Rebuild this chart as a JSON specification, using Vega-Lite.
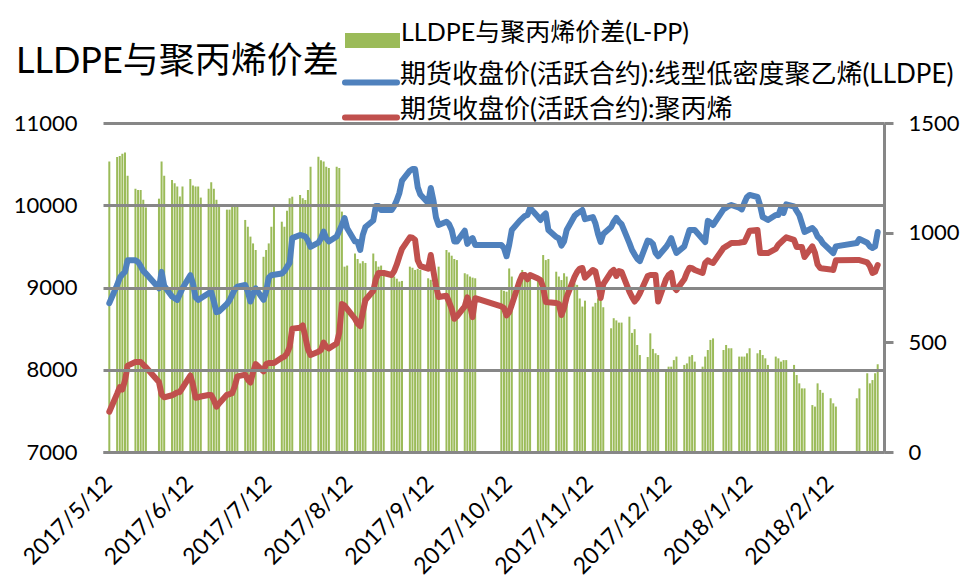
{
  "$schema": "https://vega.github.io/schema/vega-lite/v6.json",
  "width": 781,
  "height": 329,
  "autosize": "none",
  "padding": {"left": 103, "top": 123, "right": 79, "bottom": 134},
  "background": "white",
  "title": {
    "text": "LLDPE与聚丙烯价差",
    "anchor": "start",
    "frame": "group",
    "orient": "top",
    "baseline": "alphabetic",
    "offset": 51,
    "dy": 147,
    "dx": -87,
    "fontSize": 36,
    "fontWeight": "normal",
    "font": "Lato, Noto Sans CJK SC",
    "color": "#000000"
  },
  "data": {"values": [
{"d":"2017-05-12","l":8810,"p":7490,"s":1325},
{"d":"2017-05-15","l":9030,"p":7710,"s":1345},
{"d":"2017-05-16","l":9120,"p":7790,"s":1350},
{"d":"2017-05-17","l":9160,"p":7760,"s":1360},
{"d":"2017-05-18","l":9190,"p":7870,"s":1365},
{"d":"2017-05-19","l":9330,"p":8050,"s":1260},
{"d":"2017-05-22","l":9330,"p":8094,"s":1200},
{"d":"2017-05-23","l":9310,"p":8094,"s":1195},
{"d":"2017-05-24","l":9260,"p":8094,"s":1195},
{"d":"2017-05-25","l":9200,"p":8060,"s":1150},
{"d":"2017-05-26","l":9170,"p":8030,"s":1115},
{"d":"2017-05-31","l":8990,"p":7850,"s":1155},
{"d":"2017-06-01","l":9190,"p":7700,"s":1325},
{"d":"2017-06-02","l":9020,"p":7665,"s":1260},
{"d":"2017-06-05","l":8890,"p":7690,"s":1240},
{"d":"2017-06-06","l":8870,"p":7705,"s":1225},
{"d":"2017-06-07","l":8850,"p":7725,"s":1210},
{"d":"2017-06-08","l":8920,"p":7730,"s":1165},
{"d":"2017-06-09","l":8990,"p":7780,"s":1210},
{"d":"2017-06-12","l":9150,"p":7930,"s":1245},
{"d":"2017-06-13","l":9050,"p":7820,"s":1215},
{"d":"2017-06-14","l":8880,"p":7660,"s":1210},
{"d":"2017-06-15","l":8850,"p":7665,"s":1210},
{"d":"2017-06-16","l":8870,"p":7675,"s":1160},
{"d":"2017-06-19","l":8930,"p":7693,"s":1200},
{"d":"2017-06-20","l":8945,"p":7693,"s":1230},
{"d":"2017-06-21","l":8830,"p":7630,"s":1200},
{"d":"2017-06-22","l":8700,"p":7550,"s":1150},
{"d":"2017-06-23","l":8710,"p":7590,"s":1120},
{"d":"2017-06-26","l":8800,"p":7695,"s":1105},
{"d":"2017-06-27","l":8845,"p":7705,"s":1105},
{"d":"2017-06-28","l":8910,"p":7715,"s":1118},
{"d":"2017-06-29","l":8975,"p":7800,"s":1118},
{"d":"2017-06-30","l":9010,"p":7920,"s":1118},
{"d":"2017-07-03","l":9030,"p":7940,"s":1058},
{"d":"2017-07-04","l":8950,"p":7880,"s":1027},
{"d":"2017-07-05","l":8830,"p":7845,"s":982},
{"d":"2017-07-06","l":8920,"p":7970,"s":951},
{"d":"2017-07-07","l":8990,"p":8070,"s":921},
{"d":"2017-07-10","l":8850,"p":7980,"s":890},
{"d":"2017-07-11","l":8950,"p":8070,"s":921},
{"d":"2017-07-12","l":9120,"p":8082,"s":951},
{"d":"2017-07-13","l":9150,"p":8082,"s":1027},
{"d":"2017-07-14","l":9155,"p":8082,"s":1118},
{"d":"2017-07-17","l":9170,"p":8145,"s":1050},
{"d":"2017-07-18","l":9200,"p":8160,"s":1027},
{"d":"2017-07-19","l":9250,"p":8200,"s":1100},
{"d":"2017-07-20","l":9300,"p":8277,"s":1157},
{"d":"2017-07-21","l":9600,"p":8500,"s":1164},
{"d":"2017-07-24","l":9638,"p":8510,"s":1172},
{"d":"2017-07-25","l":9630,"p":8540,"s":1157},
{"d":"2017-07-26","l":9620,"p":8400,"s":1149},
{"d":"2017-07-27","l":9570,"p":8250,"s":1194},
{"d":"2017-07-28","l":9495,"p":8180,"s":1301},
{"d":"2017-07-31","l":9545,"p":8220,"s":1346},
{"d":"2017-08-01","l":9600,"p":8240,"s":1330},
{"d":"2017-08-02","l":9680,"p":8330,"s":1324},
{"d":"2017-08-03","l":9600,"p":8280,"s":1300},
{"d":"2017-08-04","l":9560,"p":8260,"s":1295},
{"d":"2017-08-07","l":9620,"p":8320,"s":1300},
{"d":"2017-08-08","l":9690,"p":8450,"s":1295},
{"d":"2017-08-09","l":9760,"p":8800,"s":1096},
{"d":"2017-08-10","l":9845,"p":8780,"s":845},
{"d":"2017-08-11","l":9720,"p":8740,"s":850},
{"d":"2017-08-14","l":9560,"p":8620,"s":905},
{"d":"2017-08-15","l":9553,"p":8560,"s":880},
{"d":"2017-08-16","l":9456,"p":8530,"s":860},
{"d":"2017-08-17","l":9640,"p":8700,"s":870},
{"d":"2017-08-18","l":9736,"p":8848,"s":862},
{"d":"2017-08-21","l":9815,"p":8960,"s":905},
{"d":"2017-08-22","l":9990,"p":9100,"s":870},
{"d":"2017-08-23","l":9990,"p":9176,"s":845},
{"d":"2017-08-24","l":9942,"p":9176,"s":850},
{"d":"2017-08-25","l":9942,"p":9176,"s":830},
{"d":"2017-08-28","l":9942,"p":9152,"s":815},
{"d":"2017-08-29","l":9990,"p":9200,"s":800},
{"d":"2017-08-30","l":10060,"p":9280,"s":790},
{"d":"2017-08-31","l":10150,"p":9380,"s":777},
{"d":"2017-09-01","l":10300,"p":9470,"s":780},
{"d":"2017-09-04","l":10420,"p":9610,"s":845},
{"d":"2017-09-05","l":10440,"p":9605,"s":840},
{"d":"2017-09-06","l":10440,"p":9580,"s":830},
{"d":"2017-09-07","l":10220,"p":9330,"s":835},
{"d":"2017-09-08","l":10130,"p":9260,"s":830},
{"d":"2017-09-11","l":10027,"p":9230,"s":792},
{"d":"2017-09-12","l":10210,"p":9395,"s":785},
{"d":"2017-09-13","l":10060,"p":9200,"s":770},
{"d":"2017-09-14","l":9850,"p":9020,"s":784},
{"d":"2017-09-15","l":9760,"p":8884,"s":845},
{"d":"2017-09-18","l":9800,"p":8900,"s":921},
{"d":"2017-09-19","l":9770,"p":8824,"s":910},
{"d":"2017-09-20","l":9700,"p":8740,"s":895},
{"d":"2017-09-21","l":9560,"p":8620,"s":880},
{"d":"2017-09-22","l":9560,"p":8650,"s":875},
{"d":"2017-09-25","l":9690,"p":8770,"s":815},
{"d":"2017-09-26","l":9530,"p":8880,"s":810},
{"d":"2017-09-27","l":9580,"p":8780,"s":800},
{"d":"2017-09-28","l":9600,"p":8640,"s":795},
{"d":"2017-09-29","l":9517,"p":8870,"s":792},
{"d":"2017-10-09","l":9517,"p":8770,"s":739},
{"d":"2017-10-10","l":9480,"p":8750,"s":735},
{"d":"2017-10-11","l":9380,"p":8660,"s":731},
{"d":"2017-10-12","l":9520,"p":8700,"s":837},
{"d":"2017-10-13","l":9700,"p":8790,"s":800},
{"d":"2017-10-16","l":9810,"p":9080,"s":740},
{"d":"2017-10-17","l":9840,"p":9152,"s":830},
{"d":"2017-10-18","l":9870,"p":9152,"s":820},
{"d":"2017-10-19","l":9882,"p":9100,"s":800},
{"d":"2017-10-20","l":9966,"p":9152,"s":810},
{"d":"2017-10-23","l":9860,"p":9110,"s":780},
{"d":"2017-10-24","l":9821,"p":9091,"s":740},
{"d":"2017-10-25","l":9870,"p":9000,"s":898},
{"d":"2017-10-26","l":9900,"p":8824,"s":875},
{"d":"2017-10-27","l":9700,"p":8820,"s":880},
{"d":"2017-10-30","l":9614,"p":8812,"s":822},
{"d":"2017-10-31","l":9600,"p":8800,"s":800},
{"d":"2017-11-01","l":9510,"p":8666,"s":784},
{"d":"2017-11-02","l":9560,"p":8750,"s":815},
{"d":"2017-11-03","l":9699,"p":8884,"s":800},
{"d":"2017-11-06","l":9870,"p":9130,"s":769},
{"d":"2017-11-07","l":9900,"p":9190,"s":762},
{"d":"2017-11-08","l":9918,"p":9230,"s":700},
{"d":"2017-11-09","l":9942,"p":9237,"s":663},
{"d":"2017-11-10","l":9830,"p":9120,"s":690},
{"d":"2017-11-13","l":9857,"p":9213,"s":663},
{"d":"2017-11-14","l":9780,"p":9195,"s":680},
{"d":"2017-11-15","l":9650,"p":9060,"s":700},
{"d":"2017-11-16","l":9553,"p":8872,"s":708},
{"d":"2017-11-17","l":9650,"p":9040,"s":660},
{"d":"2017-11-20","l":9736,"p":9188,"s":564},
{"d":"2017-11-21","l":9800,"p":9213,"s":610},
{"d":"2017-11-22","l":9845,"p":9140,"s":600},
{"d":"2017-11-23","l":9800,"p":9200,"s":590},
{"d":"2017-11-24","l":9770,"p":9190,"s":590},
{"d":"2017-11-27","l":9540,"p":8950,"s":617},
{"d":"2017-11-28","l":9456,"p":8884,"s":543},
{"d":"2017-11-29","l":9400,"p":8830,"s":560},
{"d":"2017-11-30","l":9350,"p":8870,"s":488},
{"d":"2017-12-01","l":9320,"p":8930,"s":442},
{"d":"2017-12-04","l":9570,"p":9140,"s":433},
{"d":"2017-12-05","l":9560,"p":9152,"s":541},
{"d":"2017-12-06","l":9530,"p":9152,"s":470},
{"d":"2017-12-07","l":9420,"p":9152,"s":450},
{"d":"2017-12-08","l":9380,"p":8830,"s":442},
{"d":"2017-12-11","l":9492,"p":9100,"s":374},
{"d":"2017-12-12","l":9540,"p":9150,"s":389},
{"d":"2017-12-13","l":9600,"p":9176,"s":389},
{"d":"2017-12-14","l":9500,"p":9006,"s":419},
{"d":"2017-12-15","l":9420,"p":8970,"s":435},
{"d":"2017-12-18","l":9500,"p":9100,"s":397},
{"d":"2017-12-19","l":9600,"p":9180,"s":404},
{"d":"2017-12-20","l":9699,"p":9240,"s":435},
{"d":"2017-12-21","l":9699,"p":9235,"s":442},
{"d":"2017-12-22","l":9699,"p":9213,"s":412},
{"d":"2017-12-25","l":9590,"p":9176,"s":389},
{"d":"2017-12-26","l":9553,"p":9300,"s":435},
{"d":"2017-12-27","l":9810,"p":9330,"s":465},
{"d":"2017-12-28","l":9790,"p":9310,"s":511},
{"d":"2017-12-29","l":9760,"p":9298,"s":518},
{"d":"2018-01-02","l":9950,"p":9480,"s":465},
{"d":"2018-01-03","l":9970,"p":9500,"s":488},
{"d":"2018-01-04","l":9990,"p":9520,"s":473},
{"d":"2018-01-05","l":10003,"p":9541,"s":473},
{"d":"2018-01-08","l":9970,"p":9545,"s":435},
{"d":"2018-01-09","l":9950,"p":9550,"s":435},
{"d":"2018-01-10","l":10030,"p":9553,"s":435},
{"d":"2018-01-11","l":10100,"p":9620,"s":450},
{"d":"2018-01-12","l":10125,"p":9690,"s":473},
{"d":"2018-01-15","l":10100,"p":9699,"s":450},
{"d":"2018-01-16","l":10000,"p":9419,"s":465},
{"d":"2018-01-17","l":9857,"p":9419,"s":442},
{"d":"2018-01-18","l":9840,"p":9419,"s":427},
{"d":"2018-01-19","l":9821,"p":9419,"s":397},
{"d":"2018-01-22","l":9882,"p":9470,"s":435},
{"d":"2018-01-23","l":9882,"p":9520,"s":427},
{"d":"2018-01-24","l":9966,"p":9550,"s":412},
{"d":"2018-01-25","l":9906,"p":9580,"s":419},
{"d":"2018-01-26","l":10010,"p":9610,"s":419},
{"d":"2018-01-29","l":9985,"p":9578,"s":397},
{"d":"2018-01-30","l":9930,"p":9492,"s":351},
{"d":"2018-01-31","l":9880,"p":9492,"s":313},
{"d":"2018-02-01","l":9780,"p":9492,"s":290},
{"d":"2018-02-02","l":9675,"p":9371,"s":290},
{"d":"2018-02-05","l":9723,"p":9500,"s":214},
{"d":"2018-02-06","l":9690,"p":9420,"s":207},
{"d":"2018-02-07","l":9620,"p":9280,"s":313},
{"d":"2018-02-08","l":9590,"p":9237,"s":283},
{"d":"2018-02-09","l":9540,"p":9230,"s":270},
{"d":"2018-02-12","l":9450,"p":9220,"s":245},
{"d":"2018-02-13","l":9419,"p":9213,"s":222},
{"d":"2018-02-14","l":9500,"p":9330,"s":207},
{"d":"2018-02-22","l":9541,"p":9334,"s":245},
{"d":"2018-02-23","l":9590,"p":9334,"s":290},
{"d":"2018-02-26","l":9545,"p":9305,"s":359},
{"d":"2018-02-27","l":9500,"p":9260,"s":313},
{"d":"2018-02-28","l":9480,"p":9176,"s":328},
{"d":"2018-03-01","l":9500,"p":9190,"s":359},
{"d":"2018-03-02","l":9675,"p":9273,"s":400}
  ]},
  "encoding": {
    "x": {
      "field": "d",
      "type": "temporal",
      "title": null,
      "scale": {
        "type": "utc",
        "domain": [
          {"year": 2017, "month": 5, "date": 11, "hours": 12, "utc": true},
          {"year": 2018, "month": 3, "date": 2, "hours": 12, "utc": true}
        ]
      },
      "axis": {
        "values": [
          {"year": 2017, "month": 5, "date": 12, "utc": true},
          {"year": 2017, "month": 6, "date": 12, "utc": true},
          {"year": 2017, "month": 7, "date": 12, "utc": true},
          {"year": 2017, "month": 8, "date": 12, "utc": true},
          {"year": 2017, "month": 9, "date": 12, "utc": true},
          {"year": 2017, "month": 10, "date": 12, "utc": true},
          {"year": 2017, "month": 11, "date": 12, "utc": true},
          {"year": 2017, "month": 12, "date": 12, "utc": true},
          {"year": 2018, "month": 1, "date": 12, "utc": true},
          {"year": 2018, "month": 2, "date": 12, "utc": true}
        ],
        "labelExpr": "utcFormat(datum.value, '%Y/%-m/%-d')",
        "labelAngle": -45,
        "labelFontSize": 23,
        "labelFont": "Lato",
        "labelColor": "#000000",
        "labelPadding": 20,
        "labelOffset": -9,
        "labelOverlap": false,
        "labelFlush": false,
        "ticks": false,
        "grid": false,
        "domainColor": "#878787",
        "domainWidth": 3
      }
    }
  },
  "layer": [
    {
      "mark": {"type": "bar", "size": 2},
      "encoding": {
        "y": {
          "field": "s",
          "type": "quantitative",
          "title": null,
          "scale": {"domain": [0, 1500], "nice": false, "zero": true},
          "axis": {
            "orient": "right",
            "values": [0, 500, 1000, 1500],
            "format": "d",
            "grid": false,
            "domain": true,
            "domainColor": "#878787",
            "domainWidth": 3,
            "ticks": true,
            "tickColor": "#878787",
            "tickWidth": 3,
            "tickSize": 9,
            "labelPadding": 15,
            "labelFontSize": 22,
            "labelFont": "Lato",
            "labelColor": "#000000",
            "zindex": 1
          }
        },
        "color": {
          "datum": "LLDPE与聚丙烯价差(L-PP)",
          "type": "nominal",
          "scale": {"range": ["#9BBB59"]},
          "legend": {
            "orient": "none",
            "legendX": 242,
            "legendY": -110,
            "title": null,
            "padding": 0,
            "symbolType": "M-1,-0.27H1V0.27H-1Z",
            "symbolSize": 3025,
            "symbolStrokeWidth": 0,
            "symbolOpacity": 1,
            "labelOffset": 1,
            "labelFontSize": 25,
            "labelFont": "Lato, Noto Sans CJK SC",
            "labelColor": "#000000",
            "labelBaseline": "alphabetic",
            "labelLimit": 700
          }
        }
      }
    },
    {
      "transform": [{"fold": ["l", "p"], "as": ["k", "v"]}],
      "mark": {"type": "line", "strokeWidth": 6, "strokeJoin": "round", "strokeCap": "round"},
      "encoding": {
        "y": {
          "field": "v",
          "type": "quantitative",
          "title": null,
          "scale": {"domain": [7000, 11000], "nice": false, "zero": false},
          "axis": {
            "orient": "left",
            "values": [7000, 8000, 9000, 10000, 11000],
            "format": "d",
            "grid": true,
            "gridColor": "#878787",
            "gridWidth": 3,
            "domain": false,
            "ticks": false,
            "labelPadding": 26,
            "labelFontSize": 22,
            "labelFont": "Lato",
            "labelColor": "#000000",
            "zindex": 1
          }
        },
        "stroke": {
          "field": "k",
          "type": "nominal",
          "scale": {"domain": ["l", "p"], "range": ["#4F81BD", "#C0504D"]},
          "legend": {
            "orient": "none",
            "legendX": 239,
            "legendY": -54,
            "title": null,
            "padding": 0,
            "symbolType": "stroke",
            "symbolSize": 2704,
            "symbolStrokeWidth": 6,
            "clipHeight": 27,
            "rowPadding": 0,
            "labelOffset": 0,
            "labelFontSize": 26,
            "labelFont": "Lato, Noto Sans CJK SC",
            "labelColor": "#000000",
            "labelBaseline": "alphabetic",
            "labelLimit": 700,
            "labelExpr": "datum.value == 'l' ? '期货收盘价(活跃合约):线型低密度聚乙烯(LLDPE)' : '期货收盘价(活跃合约):聚丙烯'",
            "encode": {"symbols": {"update": {"strokeCap": {"value": "round"}}}}
          }
        }
      }
    }
  ],
  "resolve": {"scale": {"y": "independent"}},
  "config": {
    "view": {"stroke": null},
    "font": "Lato, Noto Sans CJK SC"
  }
}
